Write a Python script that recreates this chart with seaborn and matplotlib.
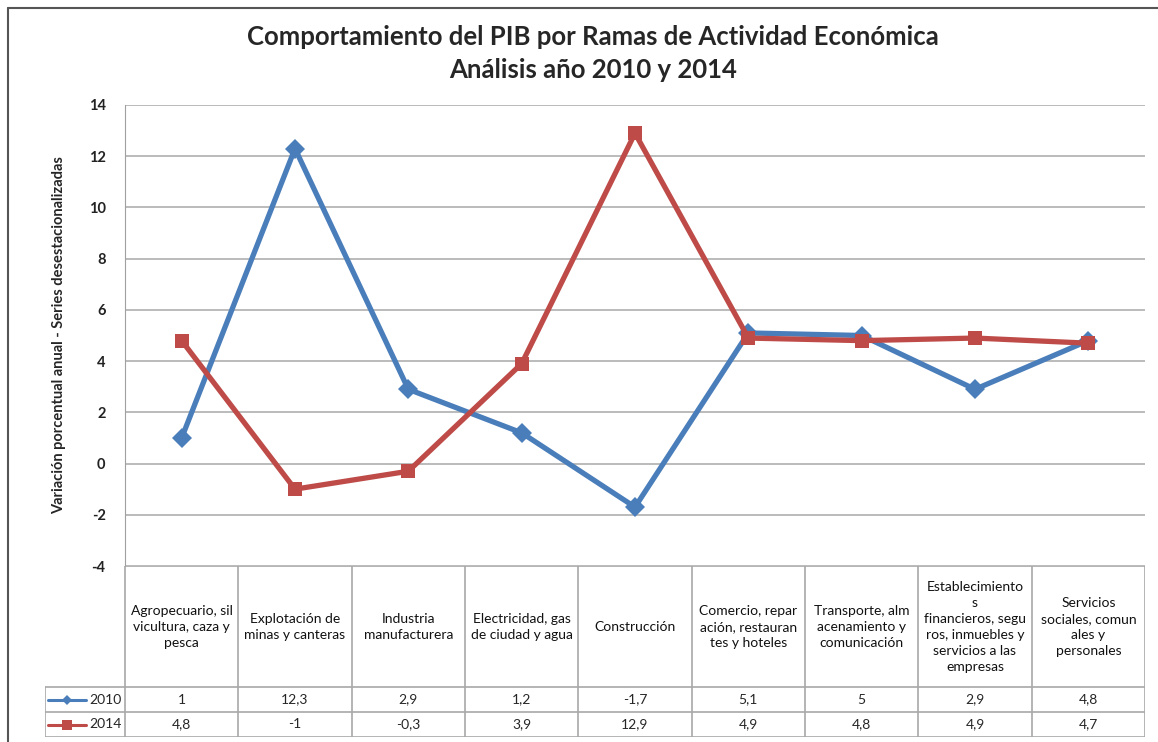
import pandas as pd
import matplotlib.pyplot as plt
import seaborn as sns

# Data
ramas = [
    "Agropecuario, sil\nvicultura, caza y\npesca",
    "Explotación de\nminas y canteras",
    "Industria\nmanufacturera",
    "Electricidad, gas\nde ciudad y agua",
    "Construcción",
    "Comercio, repar\nación, restauran\ntes y hoteles",
    "Transporte, alm\nacenamiento y\ncomunicación",
    "Establecimiento\ns\nfinancieros, segu\nros, inmuebles y\nservicios a las\nempresas",
    "Servicios\nsociales, comun\nales y\npersonales",
]
valores_2010 = [1, 12.3, 2.9, 1.2, -1.7, 5.1, 5, 2.9, 4.8]
valores_2014 = [4.8, -1, -0.3, 3.9, 12.9, 4.9, 4.8, 4.9, 4.7]
anios = ["2010", "2014"]
y_ticks = list(range(-4, 16, 2))

df = pd.DataFrame({
    "pos": list(range(len(ramas))) * 2,
    "valor": valores_2010 + valores_2014,
    "anio": ["2010"] * len(ramas) + ["2014"] * len(ramas),
})

colores = {"2010": "#4A7EBB", "2014": "#BE4B48"}
marcas = {"2010": "D", "2014": "s"}

sns.set_style("white")
plt.rcParams['font.family'] = ['Lato', 'DejaVu Sans']

W, H = 1158, 742
fig = plt.figure(figsize=(W / 100, H / 100), dpi=100)

# Figure border
fig.add_artist(plt.Line2D([8 / W, 8 / W], [0, 1 - 8 / H], color="#555555", lw=1.5))
fig.add_artist(plt.Line2D([8 / W, 1], [1 - 8 / H, 1 - 8 / H], color="#555555", lw=1.5))

# Main chart
ax = fig.add_axes([125 / W, (H - 566) / H, 1020 / W, 461 / H])
sns.lineplot(data=df, x="pos", y="valor", hue="anio", style="anio",
             palette=colores, markers=marcas, dashes=False, lw=3.8,
             markersize=10, markeredgewidth=0, legend=False, ax=ax)
ax.set_xlim(-0.5, len(ramas) - 0.5)
ax.set_ylim(-4, 14)
ax.set_yticks(y_ticks)
ax.set_yticklabels([str(t) for t in y_ticks], fontsize=10.5, fontweight="bold", color="#222222")
ax.tick_params(axis="y", length=0, pad=14)
ax.set_xticks([])
ax.set_xlabel("")
ax.set_ylabel("Variación porcentual anual - Series desestacionalizadas",
              fontsize=10.5, fontweight="bold", labelpad=16)
ax.grid(axis="y", color="#B5B5B5", lw=1.3)
for s in ["top", "right", "bottom"]:
    ax.spines[s].set_visible(False)
ax.spines["left"].set_color("#A0A0A0")

# Title
fig.text(593 / W, 1 - 37 / H, "Comportamiento del PIB por Ramas de Actividad Económica",
         ha="center", va="center", fontsize=18.5, fontweight="bold")
fig.text(593 / W, 1 - 70 / H, "Análisis año 2010 y 2014",
         ha="center", va="center", fontsize=18.5, fontweight="bold")

# Data table
col_w = 1020 / len(ramas)
key_w = 80 / col_w
tab = fig.add_axes([45 / W, (H - 737) / H, 1100 / W, 171 / H])
tab.set_xlim(-0.5 - key_w, len(ramas) - 0.5)
tab.set_ylim(0, 171)
tab.axis("off")
lc = "#A8A8A8"
# horizontal lines
tab.plot([-0.5, len(ramas) - 0.5], [171, 171], color=lc, lw=1.2)
for yy in [0, 25, 50]:
    tab.plot([-0.5 - key_w, len(ramas) - 0.5], [yy, yy], color=lc, lw=1.2)
# vertical lines
for i in range(len(ramas) + 1):
    tab.plot([i - 0.5, i - 0.5], [0, 171], color=lc, lw=1.2)
tab.plot([-0.5 - key_w, -0.5 - key_w], [0, 50], color=lc, lw=1.2)

for i, r in enumerate(ramas):
    tab.text(i, 110, r, ha="center", va="center", fontsize=10, linespacing=1.4, color="#111111")
for fila, (anio, vals) in enumerate(zip(anios, [valores_2010, valores_2014])):
    yc = 37.5 - 25 * fila
    for i, v in enumerate(vals):
        tab.text(i, yc, f"{v:g}".replace(".", ","), ha="center", va="center", fontsize=10)
    x0 = -0.5 - key_w + 0.03
    tab.plot([x0, x0 + 0.33], [yc, yc], color=colores[anio], lw=2.2)
    tab.plot([x0 + 0.165], [yc], marker=marcas[anio], color=colores[anio],
             markersize=5 if anio == "2010" else 7, markeredgewidth=0)
    tab.text(x0 + 0.36, yc, anio, ha="left", va="center", fontsize=10)

plt.savefig("out.png", dpi=100)
